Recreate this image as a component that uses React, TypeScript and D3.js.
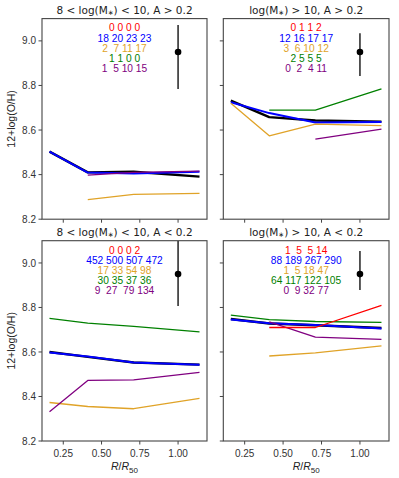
import React from 'react';
import * as d3 from 'd3';

// radial bins (R/R50)
const radii = [0.16, 0.41, 0.71, 1.14];
const yTicks = [8.2, 8.4, 8.6, 8.8, 9.0];
const xTicks = [0.25, 0.5, 0.75, 1.0];

const seriesColors = ['red', 'blue', 'goldenrod', 'green', 'purple'];

// panel titles
const titleLow = '8 < log(M';
const titleHigh = 'log(M';
const titleTails = [') < 10, A > 0.2', ') > 10, A > 0.2', ') < 10, A < 0.2', ') > 10, A < 0.2'];

// counts per bin (rows: red, blue, orange, green, purple)
const countsTL = [[0, 0, 0, 0], [18, 20, 23, 23], [2, 7, 11, 17], [1, 1, 0, 0], [1, 5, 10, 15]];
const countsTR = [[0, 1, 1, 2], [12, 16, 17, 17], [3, 6, 10, 12], [2, 5, 5, 5], [0, 2, 4, 11]];
const countsBL = [[0, 0, 0, 2], [452, 500, 507, 472], [17, 33, 54, 98], [30, 35, 37, 36], [9, 27, 79, 134]];
const countsBR = [[1, 5, 5, 14], [88, 189, 267, 290], [1, 5, 18, 47], [64, 117, 122, 105], [0, 9, 32, 77]];

// 12+log(O/H) profiles
const blackTL = [8.503, 8.41, 8.413, 8.391];
const blueTL = [8.503, 8.409, 8.405, 8.413];
const orangeTL = [null, 8.288, 8.311, 8.316];
const greenTL = [null, null, null, null];
const purpleTL = [null, 8.398, 8.41, 8.416];
const redTL = [null, null, null, null];

const blackTR = [8.732, 8.658, 8.643, 8.638];
const blueTR = [8.725, 8.676, 8.634, 8.636];
const orangeTR = [8.72, 8.574, 8.627, 8.62];
const greenTR = [null, 8.689, 8.689, 8.785];
const purpleTR = [null, null, 8.559, 8.604];
const redTR = [null, null, null, null];

const blackBL = [8.6, 8.578, 8.553, 8.543];
const blueBL = [8.598, 8.58, 8.553, 8.543];
const orangeBL = [8.373, 8.355, 8.345, 8.392];
const greenBL = [8.751, 8.73, 8.715, 8.69];
const purpleBL = [8.331, 8.472, 8.475, 8.508];
const redBL = [null, null, null, null];

const blackBR = [8.748, 8.728, 8.72, 8.708];
const blueBR = [8.746, 8.729, 8.721, 8.706];
const orangeBR = [null, 8.582, 8.596, 8.627];
const greenBR = [8.766, 8.745, 8.737, 8.733];
const purpleBR = [null, 8.735, 8.667, 8.657];
const redBR = [null, 8.71, 8.71, 8.809];

// typical error bar at R/R50 = 1 (center, low, high)
const errTL = [8.95, 8.784, 9.071];
const errTR = [8.95, 8.843, 9.034];
const errBL = [8.95, 8.807, 9.1];
const errBR = [8.95, 8.879, 9.054];

const panels = [
  { x0: 42, x1: 207, y0: 18.6, y1: 219.2, low: true, tail: titleTails[0], counts: countsTL,
    lines: [blackTL, blueTL, orangeTL, greenTL, purpleTL, redTL], err: errTL, left: true, bottom: false },
  { x0: 223.3, x1: 389, y0: 18.6, y1: 219.2, low: false, tail: titleTails[1], counts: countsTR,
    lines: [blackTR, blueTR, orangeTR, greenTR, purpleTR, redTR], err: errTR, left: false, bottom: false },
  { x0: 42, x1: 207, y0: 240.7, y1: 441, low: true, tail: titleTails[2], counts: countsBL,
    lines: [blackBL, blueBL, orangeBL, greenBL, purpleBL, redBL], err: errBL, left: true, bottom: true },
  { x0: 223.3, x1: 389, y0: 240.7, y1: 441, low: false, tail: titleTails[3], counts: countsBR,
    lines: [blackBR, blueBR, orangeBR, greenBR, purpleBR, redBR], err: errBR, left: false, bottom: true },
];

const lineStyles = [
  { color: 'black', w: 2.4 },
  { color: 'blue', w: 2 },
  { color: '#e0a328', w: 1.3 },
  { color: 'green', w: 1.3 },
  { color: 'purple', w: 1.3 },
  { color: 'red', w: 1.3 },
];

const fmtRow = (row: number[]) => {
  const w = d3.max(row, (d) => String(d).length) as number;
  return row.map((d, i) => (i === 0 ? String(d) : String(d).padStart(w, ' '))).join(' ');
};

const tickFont = '"Liberation Sans", Arial, sans-serif';
const mathFont = '"DejaVu Sans", sans-serif';

const Panel = ({ p, idx }: any) => {
  const x = d3.scaleLinear().domain([0.111, 1.189]).range([p.x0, p.x1]);
  const y = d3.scaleLinear().domain([8.2, 9.1]).range([p.y1, p.y0]);
  const line = d3
    .line<number | null>()
    .defined((d) => d != null)
    .x((_, i) => x(radii[i]))
    .y((d) => y(d as number));
  const cx = (p.x0 + p.x1) / 2;
  const clipId = `clip${idx}`;
  return (
    <g>
      <clipPath id={clipId}>
        <rect x={p.x0} y={p.y0} width={p.x1 - p.x0} height={p.y1 - p.y0} />
      </clipPath>
      <g clipPath={`url(#${clipId})`}>
        {p.lines.map((vals: (number | null)[], i: number) => (
          <path key={i} d={line(vals) || ''} fill="none" stroke={lineStyles[i].color}
            strokeWidth={lineStyles[i].w} strokeLinejoin="round" />
        ))}
        <line x1={x(1)} x2={x(1)} y1={y(p.err[1])} y2={y(p.err[2])} stroke="#222" strokeWidth={1.5} />
        <circle cx={x(1)} cy={y(p.err[0])} r={3.3} fill="black" />
      </g>
      {p.counts.map((row: number[], i: number) => (
        <text key={i} x={cx} y={p.y0 + 12.8 + i * 10.1} textAnchor="middle" fontFamily={tickFont}
          fontSize={10.2} fill={i === 2 ? '#e0a328' : seriesColors[i]} style={{ whiteSpace: 'pre' }}>
          {fmtRow(row)}
        </text>
      ))}
      <rect x={p.x0} y={p.y0} width={p.x1 - p.x0} height={p.y1 - p.y0} fill="none" stroke="#444" strokeWidth={1.1} />
      {yTicks.map((t) => (
        <g key={t}>
          <line x1={p.x0 - 3.5} x2={p.x0} y1={y(t)} y2={y(t)} stroke="#444" strokeWidth={1} />
          {p.left && (
            <text x={p.x0 - 6} y={y(t) + 3.6} textAnchor="end" fontFamily={tickFont} fontSize={10} fill="#333">
              {t.toFixed(1)}
            </text>
          )}
        </g>
      ))}
      {xTicks.map((t) => (
        <g key={t}>
          <line x1={x(t)} x2={x(t)} y1={p.y1} y2={p.y1 + 3.5} stroke="#444" strokeWidth={1} />
          {p.bottom && (
            <text x={x(t)} y={p.y1 + 16} textAnchor="middle" fontFamily={tickFont} fontSize={10} fill="#333">
              {t.toFixed(2)}
            </text>
          )}
        </g>
      ))}
      <text x={cx} y={p.y0 - 4.5} textAnchor="middle" fontFamily={mathFont} fontSize={10.5} fill="#222">
        {p.low ? titleLow : titleHigh}
        <tspan fontSize={7} dy={1}>∗</tspan>
        <tspan dy={-1}>{p.tail}</tspan>
      </text>
      {p.left && (
        <text transform={`translate(${15},${(p.y0 + p.y1) / 2}) rotate(-90)`} textAnchor="middle"
          fontFamily={tickFont} fontSize={10.5} fill="#222">
          12+log(O/H)
        </text>
      )}
      {p.bottom && (
        <text x={cx} y={p.y1 + 29} textAnchor="middle" fontFamily={tickFont} fontSize={10.5} fill="#222">
          <tspan fontStyle="italic">R</tspan>/<tspan fontStyle="italic">R</tspan>
          <tspan fontSize={8} dy={2.5}>50</tspan>
        </text>
      )}
    </g>
  );
};

export default function App() {
  return (
    <svg width={399} height={478} style={{ position: 'absolute', left: 0, top: 0, background: 'white' }}>
      {panels.map((p, i) => (
        <Panel key={i} p={p} idx={i} />
      ))}
    </svg>
  );
}
